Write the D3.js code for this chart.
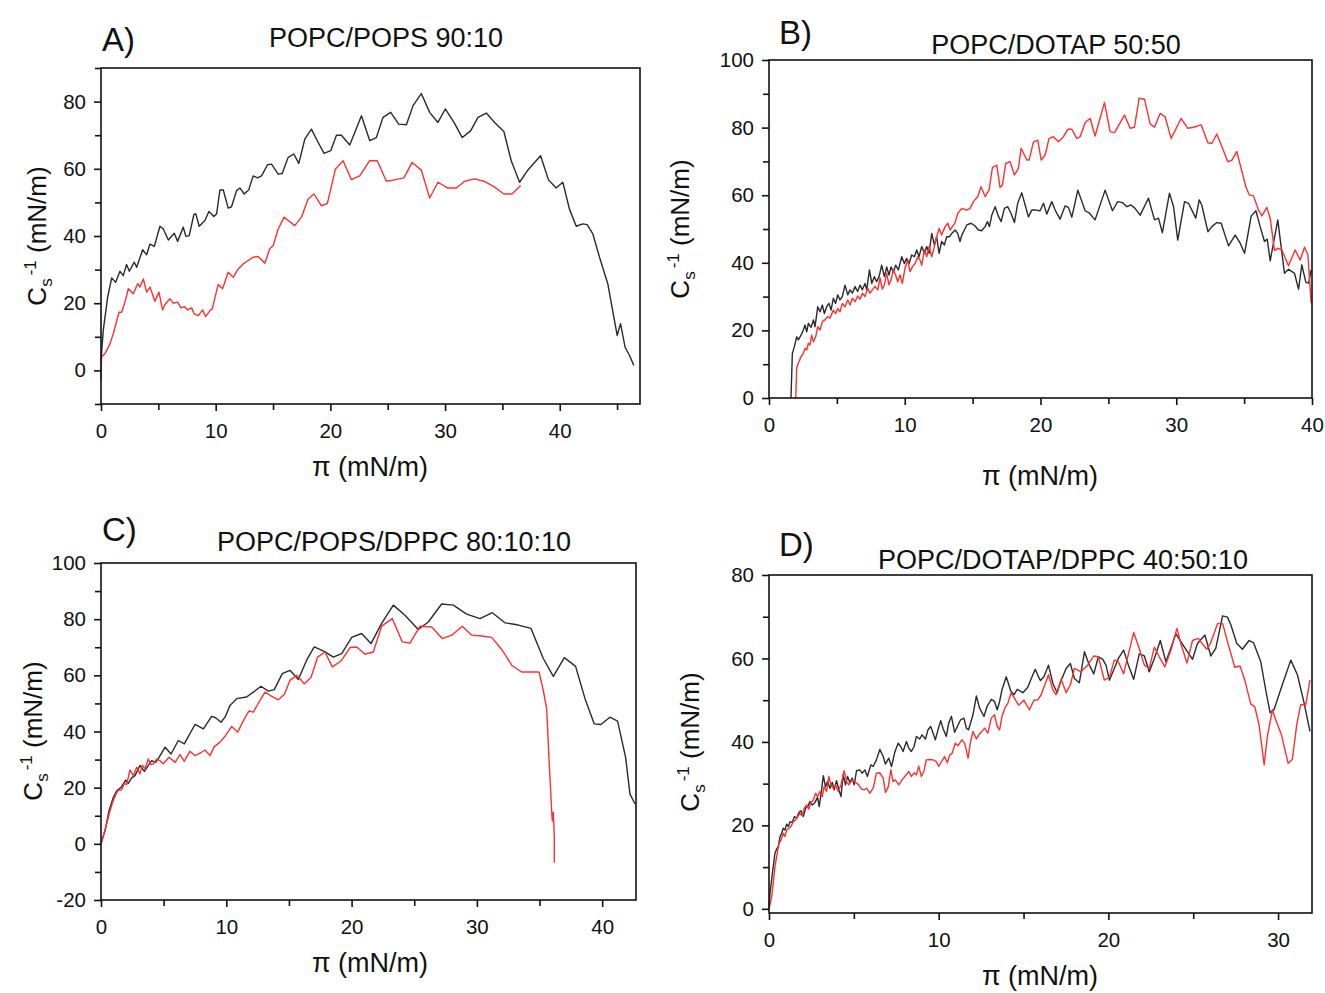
<!DOCTYPE html>
<html><head><meta charset="utf-8">
<script src="https://cdn.jsdelivr.net/npm/d3@7"></script>
<style>body{margin:0;background:#fff}svg{display:block}text{font-family:"Liberation Sans",Arial,sans-serif;fill:#111}</style>
</head><body>
<svg id="c" width="1325" height="993"></svg>
<script>
// ---------------- data ----------------
const panelA_black = [[0,3],[0.2,12],[0.58,21.8],[0.93,27.5],[1.28,26.2],[1.65,29.5],[1.94,28.2],[2.23,31.5],[2.47,29.5],[2.90,32.2],[3.11,30.7],[3.63,35.9],[3.98,34.4],[4.27,37.6],[4.65,36.9],[5.14,42.9],[5.43,42.1],[5.87,38.8],[6.39,40.8],[6.68,38.4],[7.17,42.6],[7.40,39.9],[7.69,40.1],[8.10,46.4],[8.27,46.6],[8.56,42.9],[9.06,44.6],[9.41,47.3],[9.84,45.8],[10.08,46.6],[10.37,53.7],[10.66,53.7],[11.09,48.3],[11.38,48.7],[11.82,53.5],[12.11,54.3],[12.49,52.5],[12.89,53.8],[13.27,57.9],[13.65,57.3],[14.00,57.9],[14.52,61.2],[14.87,61.4],[15.45,58.4],[15.80,58.6],[16.32,63.4],[16.81,64.4],[17.25,61.6],[17.77,68.8],[18.35,71.8],[18.79,68.8],[19.45,64.6],[20.03,65.4],[20.53,70.0],[20.96,70.0],[21.69,67.1],[22.71,75.8],[23.43,68.4],[24.01,69.3],[24.59,75.3],[25.26,76.8],[25.96,73.3],[26.63,73.1],[27.21,78.8],[27.93,82.4],[28.66,76.8],[29.38,73.8],[30.02,77.8],[30.78,73.8],[31.50,69.3],[32.23,71.3],[32.87,75.3],[33.60,76.6],[34.32,73.8],[35.13,71.1],[35.77,62.4],[36.50,56.0],[37.17,59.4],[38.33,63.9],[39.02,56.7],[39.69,54.3],[40.27,56.0],[40.85,48.0],[41.44,42.9],[42.01,43.6],[42.39,43.4],[42.89,40.6],[43.47,33.7],[44.19,25.8],[45.01,10.4],[45.30,13.9],[45.70,6.9],[46.08,4.5],[46.46,1.5]];
const panelA_red = [[0,-3],[0.05,4],[0.35,5.0],[0.78,7.9],[1.07,10.9],[1.57,17.3],[1.80,17.3],[2.09,20.3],[2.38,24.3],[2.82,22.8],[3.19,25.8],[3.40,24.8],[3.69,27.2],[3.98,23.3],[4.27,24.8],[4.70,20.6],[5.05,23.3],[5.37,18.0],[5.57,19.6],[6.01,21.3],[6.30,20.0],[6.68,20.3],[6.97,18.6],[7.26,19.0],[7.55,18.0],[7.90,18.6],[8.13,16.8],[8.48,16.3],[8.86,18.0],[9.12,16.0],[9.50,17.8],[9.70,18.3],[10.22,25.6],[10.60,24.3],[11.09,29.2],[11.53,27.7],[11.96,30.2],[12.40,31.7],[12.83,32.7],[13.27,33.7],[13.71,33.9],[14.29,31.9],[14.72,36.2],[15.01,37.1],[15.45,42.1],[15.97,45.6],[16.90,43.1],[17.48,45.6],[18.06,51.0],[18.58,52.5],[19.22,49.0],[19.74,49.7],[20.44,59.9],[21.11,62.4],[21.83,56.8],[22.56,57.9],[23.43,62.4],[24.10,62.4],[24.88,56.3],[25.61,56.7],[26.42,57.3],[27.12,61.9],[27.93,59.6],[28.66,51.3],[29.38,56.0],[30.20,54.3],[30.98,54.3],[31.71,56.3],[32.58,57.0],[33.39,56.3],[34.26,54.7],[35.13,52.5],[35.83,52.5],[36.59,55.0]];
const panelB_black = [[1.62,0],[1.72,13.2],[1.87,15.2],[2.04,18.1],[2.16,17.2],[2.36,18.6],[2.53,20.1],[2.65,21.6],[2.78,19.6],[2.90,22.1],[3.10,20.9],[3.27,23.1],[3.39,21.1],[3.59,27.0],[3.76,25.5],[3.93,27.5],[4.08,25.0],[4.25,27.0],[4.42,28.0],[4.57,26.0],[4.74,29.5],[4.91,28.0],[5.06,30.5],[5.23,29.0],[5.40,30.0],[5.60,33.4],[5.80,30.5],[5.97,32.0],[6.14,31.0],[6.34,33.0],[6.53,31.5],[6.71,33.4],[6.88,32.0],[7.07,33.9],[7.20,32.0],[7.40,37.9],[7.57,33.9],[7.76,35.9],[7.93,34.4],[8.11,35.9],[8.30,39.3],[8.50,35.9],[8.67,38.8],[8.84,36.4],[8.99,38.8],[9.16,37.3],[9.33,39.3],[9.53,37.9],[9.78,41.8],[9.97,39.8],[10.14,41.3],[10.32,39.8],[10.51,42.3],[10.71,41.8],[10.88,43.8],[11.05,41.8],[11.25,44.8],[11.45,42.8],[11.62,44.8],[11.79,42.8],[11.99,48.7],[12.18,45.3],[12.35,47.7],[12.53,42.8],[12.72,46.3],[12.92,45.3],[13.09,47.7],[13.29,47.7],[13.46,48.7],[13.71,49.7],[13.90,48.7],[14.07,46.3],[14.20,48.2],[14.39,49.7],[14.57,51.2],[14.89,51.7],[15.18,50.9],[15.43,49.7],[15.67,49.5],[15.92,50.7],[16.09,52.2],[16.24,50.7],[16.41,54.1],[16.66,56.6],[16.90,53.8],[17.10,52.2],[17.34,56.1],[17.59,56.6],[17.83,54.6],[18.08,51.9],[18.32,57.6],[18.62,60.7],[18.87,57.1],[19.11,53.6],[19.36,55.6],[19.65,55.6],[19.97,55.4],[20.22,57.6],[20.46,54.4],[20.83,58.1],[21.08,55.6],[21.44,52.9],[21.81,56.8],[22.06,56.4],[22.31,53.5],[22.75,61.5],[23.29,55.4],[23.58,54.8],[24.02,52.7],[24.76,61.5],[25.30,55.4],[25.69,58.1],[26.04,57.8],[26.36,56.6],[26.67,57.1],[26.97,56.1],[27.34,54.1],[27.95,59.1],[28.40,52.7],[28.69,53.2],[28.98,48.9],[29.50,60.6],[29.80,56.6],[30.11,46.7],[30.61,58.1],[30.90,57.6],[31.44,53.2],[31.69,58.6],[31.88,57.1],[32.33,49.2],[32.62,50.7],[32.99,51.9],[33.31,51.7],[33.85,45.0],[34.34,48.2],[34.71,45.8],[35.03,42.8],[35.52,53.8],[35.87,55.4],[36.18,50.7],[36.50,46.3],[36.70,47.0],[36.92,40.6],[37.16,45.8],[37.48,52.7],[37.97,36.9],[38.27,38.1],[38.52,37.4],[38.71,36.9],[39.01,32.2],[39.25,39.4],[39.55,34.2],[39.75,34.0],[39.94,37.9]];
const panelB_red = [[1.97,0],[2.04,8.8],[2.16,10.3],[2.36,12.2],[2.53,13.2],[2.65,14.7],[2.78,14.2],[2.90,16.2],[3.02,15.7],[3.14,18.6],[3.27,16.6],[3.44,18.1],[3.59,21.1],[3.76,20.1],[3.93,22.6],[4.13,23.1],[4.32,24.1],[4.49,23.6],[4.74,26.0],[4.91,25.0],[5.06,26.5],[5.23,25.5],[5.40,28.0],[5.60,27.0],[5.80,29.0],[5.97,27.5],[6.14,29.5],[6.34,28.5],[6.53,30.2],[6.71,29.2],[6.88,31.0],[7.07,30.0],[7.27,32.5],[7.44,31.0],[7.61,32.0],[7.81,33.0],[8.01,32.0],[8.18,35.5],[8.35,32.2],[8.50,33.5],[8.67,36.9],[8.84,33.5],[8.99,34.9],[9.16,37.9],[9.33,36.4],[9.48,34.4],[9.65,36.4],[9.82,33.9],[10.02,38.4],[10.22,40.8],[10.39,37.4],[10.56,38.8],[10.76,39.8],[10.96,41.8],[11.13,40.8],[11.25,39.3],[11.45,43.8],[11.62,41.8],[11.79,44.8],[11.99,41.8],[12.18,44.8],[12.35,47.7],[12.53,50.2],[12.72,48.2],[12.97,50.7],[13.17,51.7],[13.34,49.7],[13.51,50.7],[13.71,51.9],[13.90,54.6],[14.20,56.1],[14.57,55.6],[14.81,56.1],[15.06,58.1],[15.38,59.6],[15.62,62.5],[15.92,59.6],[16.21,61.5],[16.46,68.2],[16.78,68.9],[17.02,62.3],[17.19,63.0],[17.44,69.4],[17.76,69.9],[18.08,66.0],[18.37,67.9],[18.57,73.9],[18.99,70.4],[19.16,70.4],[19.48,75.8],[19.80,76.3],[20.05,70.4],[20.34,71.9],[20.63,76.8],[20.95,77.3],[21.32,75.8],[21.69,77.3],[22.01,79.5],[22.31,79.5],[22.67,76.8],[22.92,77.3],[23.29,81.5],[23.66,82.7],[24.02,77.5],[24.71,87.4],[25.13,78.8],[25.45,78.5],[26.19,83.7],[26.60,79.8],[26.92,80.1],[27.27,88.7],[27.66,88.4],[28.08,81.1],[28.40,80.1],[28.81,84.2],[29.18,83.2],[29.62,76.8],[30.36,82.7],[30.85,79.8],[31.27,80.1],[31.84,80.8],[32.33,75.5],[32.62,75.3],[32.99,78.1],[33.80,69.9],[34.10,70.4],[34.46,72.9],[35.13,62.5],[35.37,60.1],[35.69,59.8],[36.06,55.6],[36.31,53.9],[36.67,56.4],[36.92,53.2],[37.24,43.6],[37.48,44.3],[37.78,43.8],[38.27,39.1],[38.76,43.8],[39.13,40.8],[39.45,44.6],[39.70,42.4],[39.79,36.9],[39.94,28.0]];
const panelC_black = [[0,0],[0.32,4.6],[0.64,11.8],[0.98,16.5],[1.25,18.9],[1.60,20.1],[1.97,22.7],[2.18,21.5],[2.45,23.5],[2.71,24.3],[3.11,27.9],[3.46,25.8],[3.78,27.9],[4.04,29.6],[4.36,29.0],[4.63,30.8],[5.11,34.4],[5.59,32.0],[6.17,36.8],[6.65,35.6],[7.50,42.5],[8.17,40.9],[8.83,45.4],[9.15,44.9],[9.58,43.3],[9.90,45.1],[10.30,49.3],[10.83,51.7],[11.62,52.3],[12.16,54.0],[12.77,56.1],[13.35,54.4],[13.83,54.9],[14.47,60.6],[15.08,61.8],[15.75,58.5],[16.41,65.4],[17.02,70.1],[17.82,68.5],[18.54,66.5],[19.21,67.7],[20.01,73.5],[20.80,74.9],[21.55,71.3],[22.40,78.5],[23.33,85.0],[24.26,81.4],[25.32,76.3],[26.12,79.0],[27.19,85.4],[28.12,85.0],[29.18,81.8],[30.25,80.2],[31.23,82.3],[32.24,78.7],[33.31,77.9],[34.32,76.7],[35.30,66.0],[36.10,59.6],[36.98,66.3],[37.88,63.2],[38.63,51.7],[39.37,42.7],[39.90,42.5],[40.62,45.1],[41.23,43.7],[41.87,30.8],[42.22,17.7],[42.62,14.2]];
const panelC_red = [[0,0],[0.45,7.0],[0.72,11.8],[0.98,15.4],[1.33,18.9],[1.65,19.2],[1.86,21.5],[2.05,21.1],[2.31,26.3],[2.58,24.3],[2.85,27.3],[3.11,24.9],[3.30,27.9],[3.51,26.7],[3.78,30.2],[3.99,28.2],[4.18,28.5],[4.44,30.2],[4.71,29.6],[4.97,28.5],[5.43,30.8],[5.91,29.0],[6.31,31.8],[6.65,29.4],[7.10,33.0],[7.50,31.4],[8.03,32.6],[8.30,33.4],[8.70,31.4],[9.04,34.6],[9.50,36.2],[9.95,38.6],[10.43,41.8],[10.91,39.8],[11.44,44.5],[11.81,47.3],[12.16,46.9],[12.61,50.5],[13.09,54.0],[13.49,52.9],[14.15,51.3],[14.63,53.2],[15.08,58.2],[15.62,60.0],[16.23,57.0],[16.76,59.2],[17.29,66.5],[17.88,68.3],[18.46,63.0],[19.16,65.1],[19.87,69.9],[20.41,70.1],[21.07,67.5],[21.73,68.3],[22.40,77.5],[23.25,80.2],[24.05,71.9],[24.66,71.5],[25.46,77.5],[26.39,77.2],[27.24,73.1],[27.99,74.3],[28.84,77.5],[29.58,74.3],[30.38,74.0],[31.18,73.5],[31.98,69.2],[32.78,63.6],[33.57,61.2],[34.32,61.2],[34.96,61.2],[35.30,54.6],[35.57,48.1],[35.75,30.8],[35.97,11.8],[36.02,8.2],[36.10,11.2],[36.18,2.3],[36.18,-6.7]];
const panelD_black = [[0,0],[0.06,3.8],[0.20,8.5],[0.35,13.3],[0.45,14.3],[0.55,15.0],[0.65,17.3],[0.75,18.1],[0.84,19.3],[0.94,18.9],[1.04,20.3],[1.14,19.7],[1.24,20.9],[1.37,20.7],[1.49,22.1],[1.63,21.7],[1.76,23.1],[1.88,23.5],[2.02,22.1],[2.16,24.1],[2.31,24.7],[2.41,25.7],[2.55,24.9],[2.71,25.5],[2.86,26.7],[2.96,24.5],[3.10,28.5],[3.20,31.9],[3.33,29.3],[3.45,30.5],[3.59,28.9],[3.73,30.3],[3.84,28.5],[3.98,30.7],[4.12,28.5],[4.24,26.9],[4.37,32.1],[4.51,29.7],[4.63,31.7],[4.76,30.3],[4.90,31.3],[5.02,29.7],[5.16,33.1],[5.35,33.3],[5.49,32.5],[5.65,33.3],[5.80,31.7],[6.00,34.5],[6.14,34.1],[6.33,35.7],[6.53,38.2],[6.73,36.5],[6.86,34.7],[7.06,36.1],[7.22,34.1],[7.41,37.5],[7.61,39.7],[7.76,38.9],[7.90,37.7],[8.10,40.1],[8.24,38.5],[8.39,37.7],[8.55,38.9],[8.69,41.3],[8.88,40.7],[9.02,41.7],[9.22,40.7],[9.37,42.9],[9.53,43.7],[9.67,42.1],[9.80,40.5],[9.96,42.9],[10.12,45.1],[10.25,43.3],[10.45,41.3],[10.59,44.5],[10.75,46.1],[10.94,42.3],[11.10,43.7],[11.29,45.3],[11.49,45.7],[11.63,43.3],[11.76,42.9],[12.02,46.5],[12.22,51.0],[12.41,48.1],[12.67,46.1],[12.86,48.6],[13.10,50.2],[13.29,49.7],[13.45,47.7],[13.59,49.7],[13.73,52.5],[13.98,55.6],[14.24,52.3],[14.43,51.3],[14.63,52.6],[14.76,52.3],[14.96,51.8],[15.25,53.1],[15.55,56.1],[15.69,57.4],[15.88,55.6],[16.0,54.7],[16.20,55.6],[16.47,58.4],[16.73,54.0],[16.98,51.8],[17.22,54.8],[17.51,57.6],[17.76,58.8],[18.00,55.2],[18.29,54.2],[18.59,61.6],[18.88,58.4],[19.14,56.3],[19.41,60.4],[19.67,59.8],[19.86,58.4],[20.06,54.8],[20.35,57.6],[20.59,60.0],[20.90,62.0],[21.18,58.4],[21.49,55.0],[21.82,61.1],[22.12,60.6],[22.41,56.8],[22.71,60.0],[23.06,64.3],[23.39,59.2],[23.98,65.9],[24.47,62.8],[24.96,59.8],[25.25,63.6],[25.69,65.6],[26.04,60.6],[26.33,62.4],[26.73,70.2],[27.02,69.9],[27.22,68.0],[27.57,63.6],[27.90,62.2],[28.29,64.3],[28.55,63.8],[28.98,59.2],[29.27,52.5],[29.53,47.0],[29.76,47.7],[30.25,53.7],[30.75,59.6],[31.14,56.1],[31.53,49.4],[31.88,42.5]];
const panelD_red = [[0,0],[0.06,1.0],[0.16,3.0],[0.25,6.1],[0.35,10.1],[0.45,12.5],[0.59,15.7],[0.71,16.5],[0.84,18.1],[0.94,17.3],[1.04,18.9],[1.18,19.3],[1.29,19.7],[1.43,20.9],[1.57,21.3],[1.69,22.1],[1.82,22.9],[1.96,22.3],[2.08,24.1],[2.22,24.9],[2.35,23.9],[2.47,25.5],[2.61,26.1],[2.75,27.7],[2.86,26.9],[3.00,28.1],[3.14,26.9],[3.25,29.3],[3.39,28.1],[3.53,31.7],[3.65,29.7],[3.78,28.9],[3.92,29.7],[4.08,28.1],[4.24,29.7],[4.43,33.1],[4.57,30.5],[4.71,29.7],[4.90,30.9],[5.10,30.3],[5.29,29.7],[5.45,28.7],[5.61,28.5],[5.75,28.9],[5.94,27.7],[6.14,28.9],[6.33,32.5],[6.53,32.6],[6.73,31.3],[6.86,27.9],[7.02,29.1],[7.18,33.3],[7.31,30.5],[7.45,30.9],[7.65,29.7],[7.84,30.9],[8.04,31.9],[8.24,32.9],[8.39,31.7],[8.55,32.6],[8.69,32.1],[8.82,34.2],[8.98,31.7],[9.14,33.1],[9.27,35.7],[9.47,35.8],[9.67,35.7],[9.86,35.3],[10.00,34.1],[10.16,35.3],[10.35,36.5],[10.51,35.0],[10.65,36.9],[10.78,37.2],[10.98,39.7],[11.14,39.1],[11.37,40.5],[11.53,39.7],[11.73,36.1],[11.88,40.1],[12.02,42.5],[12.22,40.7],[12.41,41.9],[12.71,43.3],[12.90,42.1],[13.10,45.7],[13.29,46.5],[13.45,43.7],[13.59,42.9],[13.73,46.1],[13.92,48.3],[14.08,49.3],[14.27,51.8],[14.51,50.2],[14.71,48.8],[15.02,50.0],[15.35,47.7],[15.61,50.0],[15.84,50.1],[16.04,51.3],[16.47,56.1],[16.73,52.5],[16.92,51.3],[17.22,55.0],[17.51,51.8],[17.76,53.7],[18.00,57.6],[18.39,56.8],[18.78,58.4],[19.14,60.6],[19.41,60.4],[19.76,54.8],[20.06,55.5],[20.35,59.6],[20.59,59.2],[20.90,56.3],[21.14,60.4],[21.49,66.2],[21.82,62.4],[22.12,58.4],[22.41,57.6],[22.71,62.7],[23.00,60.4],[23.33,58.0],[23.69,62.0],[24.04,67.2],[24.27,63.6],[24.63,58.9],[24.96,64.3],[25.29,64.8],[25.49,63.8],[25.80,62.2],[26.04,63.8],[26.43,68.3],[26.73,68.4],[27.02,64.0],[27.45,57.9],[27.76,58.2],[28.04,54.8],[28.39,49.1],[28.63,48.4],[28.88,44.1],[29.18,34.5],[29.37,41.3],[29.67,47.7],[29.86,45.3],[30.20,41.7],[30.59,34.9],[30.84,35.8],[31.10,44.1],[31.33,48.9],[31.63,48.9],[31.88,54.8]];

const panelLetters = ["A)", "B)", "C)", "D)"];
const panelTitles = ["POPC/POPS 90:10", "POPC/DOTAP 50:50", "POPC/POPS/DPPC 80:10:10", "POPC/DOTAP/DPPC 40:50:10"];
const xDomains = [[0,47],[0,40],[0,42.7],[0,32]];
const yDomains = [[-10,90],[0,100],[-20,100],[-1,80]];
const xMajor = [[0,10,20,30,40],[0,10,20,30,40],[0,10,20,30,40],[0,10,20,30]];
const xMinor = [[5,15,25,35,45],[5,15,25,35],[5,15,25,35],[5,15,25]];
const yMajor = [[0,20,40,60,80],[0,20,40,60,80,100],[-20,0,20,40,60,80,100],[0,20,40,60,80]];
const yMinor = [[-10,10,30,50,70,90],[10,30,50,70,90],[-10,10,30,50,70,90],[10,30,50,70]];
const xLabel = "π (mN/m)";

// ---------------- layout ----------------
const layout = [
  {l:101, r:640, t:68, b:404, letter:[102,51], title:[386,47], xl:[370,476], yl:[46,236]},
  {l:769, r:1312, t:60, b:398, letter:[779,44], title:[1056,54], xl:[1040,485], yl:[689,229]},
  {l:101, r:636, t:563, b:900, letter:[102,541], title:[394,551], xl:[370,972], yl:[42,731]},
  {l:769, r:1312, t:575, b:913, letter:[779,556], title:[1063,569], xl:[1040,985], yl:[699,742]}
];
const series = [[panelA_black, panelA_red],[panelB_black, panelB_red],[panelC_black, panelC_red],[panelD_black, panelD_red]];
const colors = ["#2a2a2a", "#ff3030"];

const svg = d3.select("#c");
svg.append("rect").attr("width",1325).attr("height",993).attr("fill","#fff");

layout.forEach((L, i) => {
  const g = svg.append("g");
  const x = d3.scaleLinear().domain(xDomains[i]).range([L.l, L.r]);
  const y = d3.scaleLinear().domain(yDomains[i]).range([L.b, L.t]);
  const fmt = d => String(d);

  const line = d3.line().x(d => x(d[0])).y(d => y(d[1]));
  series[i].forEach((s, k) => {
    g.append("path").datum(s).attr("d", line)
      .attr("fill","none").attr("stroke", colors[k]).attr("stroke-width", 1.4)
      .attr("stroke-linejoin","round");
  });
  g.append("rect").attr("x",L.l).attr("y",L.t).attr("width",L.r-L.l).attr("height",L.b-L.t)
    .attr("fill","none").attr("stroke","#111").attr("stroke-width",1.6);

  const ax = g.append("g").attr("transform",`translate(0,${L.b})`)
    .call(d3.axisBottom(x).tickValues(xMajor[i]).tickSize(7).tickPadding(12).tickFormat(fmt));
  const axm = g.append("g").attr("transform",`translate(0,${L.b})`)
    .call(d3.axisBottom(x).tickValues(xMinor[i]).tickSize(6).tickFormat(""));
  const ay = g.append("g").attr("transform",`translate(${L.l},0)`)
    .call(d3.axisLeft(y).tickValues(yMajor[i]).tickSize(7).tickPadding(8).tickFormat(fmt));
  const aym = g.append("g").attr("transform",`translate(${L.l},0)`)
    .call(d3.axisLeft(y).tickValues(yMinor[i]).tickSize(6).tickFormat(""));
  [ax, axm, ay, aym].forEach(a => {
    a.select(".domain").remove();
    a.selectAll("line").attr("stroke","#111").attr("stroke-width",1.6);
    a.selectAll("text").attr("font-size",20.5).attr("font-family",'"Liberation Sans",Arial,sans-serif').attr("fill","#111");
  });

  g.append("text").attr("x",L.letter[0]).attr("y",L.letter[1]).attr("font-size",33).text(panelLetters[i]);
  g.append("text").attr("x",L.title[0]).attr("y",L.title[1]).attr("text-anchor","middle").attr("font-size",27).text(panelTitles[i]);

  g.append("text").attr("x",L.xl[0]).attr("y",L.xl[1]).attr("text-anchor","middle").attr("font-size",27).text(xLabel);

  const yt = g.append("text").attr("transform",`translate(${L.yl[0]},${L.yl[1]}) rotate(-90)`)
    .attr("text-anchor","middle").attr("font-size",26);
  yt.append("tspan").text("C");
  yt.append("tspan").attr("font-size",17).attr("dy",6).text("s");
  yt.append("tspan").attr("font-size",17).attr("dy",-16).attr("dx",3).text("-1");
  yt.append("tspan").attr("dy",10).text(" (mN/m)");
});
</script>
</body></html>
